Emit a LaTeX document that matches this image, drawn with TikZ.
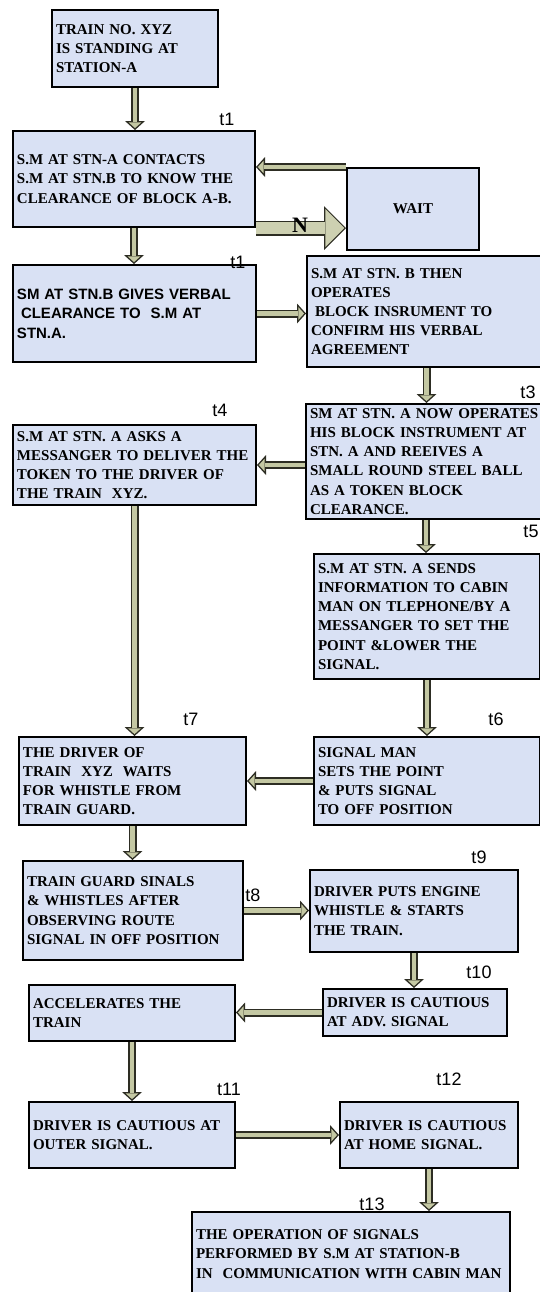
\documentclass[tikz,border=0pt]{standalone}
\usepackage{fontspec}
\setmainfont{Liberation Serif}
\newfontfamily\arialfont{Liberation Sans}
\usetikzlibrary{arrows.meta}

\definecolor{boxfill}{RGB}{217,225,244}
\definecolor{arrowfill}{RGB}{196,200,163}
\definecolor{arrowedge}{RGB}{45,45,35}

\begin{document}
\begin{tikzpicture}[
    x=0.5pt, y=-0.5pt,
    box/.style={draw=black, line width=1pt, fill=boxfill, anchor=north west, align=left, inner xsep=2pt, inner ysep=0pt, font=\bfseries\fontsize{7.5}{9.6}\selectfont},
    sansbox/.style={box, font=\arialfont\bfseries\fontsize{7.5}{9.8}\selectfont},
    tlabel/.style={font=\arialfont\fontsize{9}{10}\selectfont, inner sep=0pt},
    arrow/.style={draw=arrowfill, line width=2.4pt, -{Triangle[length=2.9pt, width=6.4pt, line width=0pt]}, shorten >=0.95pt,
        preaction={draw=arrowedge, line width=4pt, shorten >=0pt, -{Triangle[length=4.5pt, width=10pt, line width=0pt]}}},
    bigarrow/.style={draw=arrowfill!85!white, line width=6.3pt, -{Triangle[length=9.5pt, width=19pt, line width=0pt]}, shorten >=0.85pt,
        preaction={draw=arrowedge, line width=7.5pt, shorten >=0pt, -{Triangle[length=11pt, width=22pt, line width=0pt]}}}
]
\useasboundingbox (0,0) rectangle (540,1292);
\clip (0,0) rectangle (540,1292);

% boxes
\node[box, text width=79pt, minimum height=38.5pt] (train) at (51,9) {TRAIN NO. XYZ\\IS STANDING AT\\STATION-A};
\node[box, text width=117pt, minimum height=48pt] (contact) at (12,130) {S.M AT STN-A CONTACTS\\S.M AT STN.B TO KNOW THE\\CLEARANCE OF BLOCK A-B.};
\node[box, text width=62pt, minimum height=41pt, align=center] (wait) at (346,167) {WAIT};
\node[sansbox, text width=117.5pt, minimum height=48.5pt] (verbal) at (12,264) {SM AT STN.B GIVES VERBAL\\\hspace*{2pt}CLEARANCE TO\ \ S.M AT\\STN.A.};
\node[box, text width=115.5pt, minimum height=55.5pt] (operates) at (306,255) {S.M AT STN. B THEN\\OPERATES\\\hspace*{2pt}BLOCK INSRUMENT TO\\CONFIRM HIS VERBAL\\AGREEMENT};
\node[box, text width=116pt, minimum height=57.5pt] (nowops) at (305,403) {SM AT STN. A NOW OPERATES\\HIS BLOCK INSTRUMENT AT\\STN. A AND REEIVES A\\SMALL ROUND STEEL BALL\\AS A TOKEN BLOCK\\CLEARANCE.};
\node[box, text width=117.5pt, minimum height=40pt] (asks) at (12,424) {S.M AT STN. A ASKS A\\MESSANGER TO DELIVER THE\\TOKEN TO THE DRIVER OF\\THE TRAIN\ \ XYZ.};
\node[box, text width=109pt, minimum height=62.5pt] (sends) at (313,553) {S.M AT STN. A SENDS\\INFORMATION TO CABIN\\MAN ON TLEPHONE/BY A\\MESSANGER TO SET THE\\POINT \&LOWER THE\\SIGNAL.};
\node[box, text width=109pt, minimum height=44pt] (sigman) at (313,736) {SIGNAL MAN\\SETS THE POINT\\\& PUTS SIGNAL\\TO OFF POSITION};
\node[box, text width=109.5pt, minimum height=44pt] (waits) at (18,736) {THE DRIVER OF\\TRAIN\ \ XYZ\ \ WAITS\\FOR WHISTLE FROM\\TRAIN GUARD.};
\node[box, text width=106pt, minimum height=49.5pt] (guard) at (22,860) {TRAIN GUARD SINALS\\\& WHISTLES AFTER\\OBSERVING ROUTE\\SIGNAL IN OFF POSITION};
\node[box, text width=100pt, minimum height=41pt] (engine) at (309,869) {DRIVER PUTS ENGINE\\WHISTLE \& STARTS\\THE TRAIN.};
\node[box, text width=88pt, minimum height=23.5pt] (adv) at (322,988) {DRIVER IS CAUTIOUS\\AT ADV. SIGNAL};
\node[box, text width=99pt, minimum height=28pt] (accel) at (28,984) {ACCELERATES THE\\TRAIN};
\node[box, text width=99pt, minimum height=33pt] (outer) at (28,1101) {DRIVER IS CAUTIOUS AT\\OUTER SIGNAL.};
\node[box, text width=85pt, minimum height=33pt] (home) at (339,1101) {DRIVER IS CAUTIOUS\\AT HOME SIGNAL.};
\node[box, text width=155pt, minimum height=42pt] (final) at (191,1211) {THE OPERATION OF SIGNALS\\PERFORMED BY S.M AT STATION-B\\IN\ \ COMMUNICATION WITH CABIN MAN};

% time marks
\node[tlabel] (ta) at (227,119) {t1};
\node[tlabel] (tb) at (238,262) {t1};
\node[tlabel] (tc) at (528,392) {t3};
\node[tlabel] (td) at (220,410) {t4};
\node[tlabel] (te) at (531,531) {t5};
\node[tlabel] (tf) at (496,719) {t6};
\node[tlabel] (tg) at (191,719) {t7};
\node[tlabel] (th) at (253,895) {t8};
\node[tlabel] (ti) at (479,857) {t9};
\node[tlabel] (tj) at (479,972) {t10};
\node[tlabel] (tk) at (229,1089) {t11};
\node[tlabel] (tl) at (449,1079) {t12};
\node[tlabel] (tm) at (372,1204) {t13};

% flow
\foreach \a/\b in {train.south/train.south |- contact.north, contact.south/contact.south |- verbal.north,
    verbal.east/verbal.east -| operates.west, operates.south/operates.south |- nowops.north,
    asks.east -| nowops.west/asks.east, nowops.south/nowops.south |- sends.north,
    sends.south/sends.south |- sigman.north, asks.south/asks.south |- waits.north,
    sigman.west/sigman.west -| waits.east, waits.south/waits.south |- guard.north,
    guard.east/guard.east -| engine.west, engine.south/engine.south |- adv.north,
    adv.west/adv.west -| accel.east, accel.south/accel.south |- outer.north,
    outer.east/outer.east -| home.west, home.south/home.south |- final.north}
  \draw[arrow] (\a) -- (\b);
\draw[arrow] (wait.north west) -- (wait.north west -| contact.east);
\draw[bigarrow] (contact.south east) -- (contact.south east -| wait.west);
\node[font=\bfseries\fontsize{11}{12}\selectfont, inner sep=0pt] (nlab) at (300,225) {N};
\end{tikzpicture}
\end{document}
